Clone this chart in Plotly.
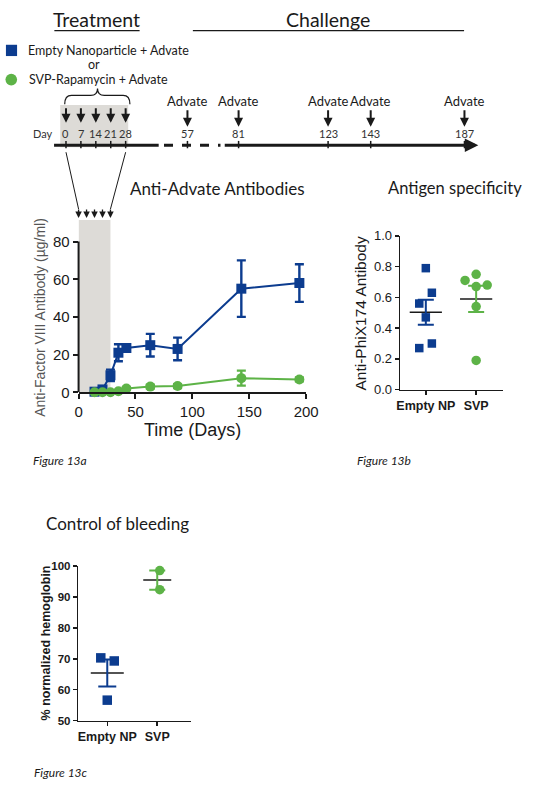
import numpy as np
import plotly.graph_objects as go

# ---------------- data ----------------
treatment_days = [0, 7, 14, 21, 28]
challenge_days = [57, 81, 123, 143, 187]

time_days = [14, 21, 28, 35, 42, 63, 87, 143, 194]
empty_np_titer = [0.3, 1.5, 9, 21, 23.5, 25, 23, 55, 58]
empty_np_titer_err = [0.5, 1, 3, 4.5, 2, 6, 6, 15, 10]
svp_titer = [0, 0, 0, 0.5, 2, 3, 3.3, 7.5, 6.8]
svp_titer_err = [0.3, 0.3, 0.3, 0.5, 0.8, 1, 1, 4, 1]

groups = ["Empty NP", "SVP"]
phix_empty_np = [0.79, 0.63, 0.56, 0.47, 0.30, 0.27]
phix_svp = [0.75, 0.71, 0.68, 0.67, 0.54, 0.19]
hb_empty_np = [70.3, 69.3, 56.6]
hb_svp = [98.6, 92.4]

time_ticks = [0, 50, 100, 150, 200]
titer_ticks = [0, 20, 40, 60, 80]
phix_ticks = [0.0, 0.2, 0.4, 0.6, 0.8, 1.0]
hb_ticks = [50, 60, 70, 80, 90, 100]

# ---------------- layout helpers ----------------
W, H = 541, 792
def fx(p): return p / W
def fy(p): return 1 - p / H

# horizontal jitter of the dot plots (layout only)
phix_empty_dx = [0, 0.12, -0.13, 0, 0.12, -0.13]
phix_svp_dx = [0, -0.22, 0.22, 0, 0, 0]
hb_empty_dx = [-0.13, 0.14, 0]
hb_svp_dx = [0.05, 0.05]

BLUE = "#0c3c8f"
GREEN = "#5db347"
BAND = "#dddbd7"
INK = "#1a1a1a"
TFONT = "Lato"
AFONT = "Liberation Sans"

# timeline axis: day d -> pixel TL0 + TLK*d
TL0, TLK = 64.0, 2.2
def tl_px(d): return TL0 + TLK * d
# main chart x axis pixel mapping
A_X0, A_X1 = 77.0, 312.0
def a_px(d): return A_X0 + d / 200.0 * (A_X1 - A_X0)

fig = go.Figure()

# ---------- Figure 13a ----------
fig.add_trace(go.Scatter(
    x=time_days, y=empty_np_titer, mode="lines+markers",
    error_y=dict(type="data", array=empty_np_titer_err, color=BLUE, thickness=2.4, width=4.5),
    marker=dict(symbol="square", size=10, color=BLUE), line=dict(color=BLUE, width=2),
    xaxis="x", yaxis="y", cliponaxis=False, showlegend=False, hoverinfo="skip"))
fig.add_trace(go.Scatter(
    x=time_days, y=svp_titer, mode="lines+markers",
    error_y=dict(type="data", array=svp_titer_err, color=GREEN, thickness=2.4, width=4.5),
    marker=dict(symbol="circle", size=10, color=GREEN), line=dict(color=GREEN, width=2),
    xaxis="x", yaxis="y", cliponaxis=False, showlegend=False, hoverinfo="skip"))

def mean_sem(v):
    a = np.asarray(v, float)
    return a.mean(), a.std(ddof=1) / np.sqrt(len(a))

def dot_group(xa, ya, vals, idx, dx, color, symbol, size, capw, half):
    m, s = mean_sem(vals)
    fig.add_trace(go.Scatter(
        x=[idx + o for o in dx], y=vals, mode="markers",
        marker=dict(symbol=symbol, size=size, color=color),
        xaxis=xa, yaxis=ya, cliponaxis=False, showlegend=False, hoverinfo="skip"))
    fig.add_trace(go.Scatter(
        x=[idx - half, idx + half], y=[m, m], mode="lines",
        line=dict(color=INK, width=1.5),
        xaxis=xa, yaxis=ya, cliponaxis=False, showlegend=False, hoverinfo="skip"))
    fig.add_trace(go.Scatter(
        x=[idx], y=[m], mode="markers", marker=dict(size=1, color="rgba(0,0,0,0)"),
        error_y=dict(type="data", array=[s], color=color, thickness=2, width=capw),
        xaxis=xa, yaxis=ya, cliponaxis=False, showlegend=False, hoverinfo="skip"))

# ---------- Figure 13b ----------
dot_group("x2", "y2", phix_empty_np, 0, phix_empty_dx, BLUE, "square", 8.5, 8, 0.32)
dot_group("x2", "y2", phix_svp, 1, phix_svp_dx, GREEN, "circle", 9.5, 8, 0.32)

# ---------- Figure 13c ----------
dot_group("x3", "y3", hb_empty_np, 0, hb_empty_dx, BLUE, "square", 9.5, 9, 0.33)
dot_group("x3", "y3", hb_svp, 1, hb_svp_dx, GREEN, "circle", 9.5, 8, 0.28)

# invisible anchor trace for the timeline axis
fig.add_trace(go.Scatter(
    x=treatment_days + challenge_days, y=[0.5] * 10, mode="markers",
    marker=dict(color="rgba(0,0,0,0)"), xaxis="x4", yaxis="y4",
    showlegend=False, hoverinfo="skip"))

common = dict(showgrid=False, zeroline=False, ticks="outside",
              linecolor=INK, tickcolor=INK)
fig.update_layout(
    width=W, height=H, margin=dict(l=0, r=0, t=0, b=0),
    paper_bgcolor="white", plot_bgcolor="rgba(0,0,0,0)",
    xaxis=dict(domain=[fx(A_X0), fx(A_X1)], range=[0, 200], tickvals=time_ticks,
               anchor="y", showline=True, linewidth=2, tickwidth=2, ticklen=5,
               tickfont=dict(family=AFONT, size=15, color=INK), **common),
    yaxis=dict(domain=[fy(392.7), fy(208.4)], range=[0, 96], tickvals=titer_ticks,
               anchor="x", showline=False, tickwidth=2, ticklen=5,
               tickfont=dict(family=AFONT, size=15, color=INK), **common),
    xaxis2=dict(domain=[fx(409), fx(515)], range=[-0.51, 1.53], tickvals=[0, 1],
                ticktext=["<b>%s</b>" % g for g in groups], anchor="y2",
                showline=True, linewidth=1.5, tickwidth=1.5, ticklen=4,
                tickfont=dict(family=AFONT, size=12.5, color=INK), **common),
    yaxis2=dict(domain=[fy(390), fy(233.3)], range=[0, 1], tickvals=phix_ticks,
                tickformat=".1f", anchor="x2", showline=True, linewidth=1.5,
                tickwidth=1.5, ticklen=4,
                tickfont=dict(family=AFONT, size=13, color=INK), **common),
    xaxis3=dict(domain=[fx(76.7), fx(193.3)], range=[-0.58, 1.68], tickvals=[0, 1],
                ticktext=["<b>%s</b>" % g for g in groups], anchor="y3",
                showline=True, linewidth=1.5, tickwidth=1.5, ticklen=4,
                tickfont=dict(family=AFONT, size=12.5, color=INK), **common),
    yaxis3=dict(domain=[fy(727.3), fy(570)], range=[50, 100], tickvals=hb_ticks,
                ticktext=["<b>%d</b>" % v for v in hb_ticks], anchor="x3",
                showline=True, linewidth=1.5, tickwidth=1.5, ticklen=4,
                tickfont=dict(family=AFONT, size=11.5, color=INK), **common),
    xaxis4=dict(domain=[0, 1], range=[-TL0 / TLK, (W - TL0) / TLK], visible=False,
                anchor="y4", fixedrange=True),
    yaxis4=dict(domain=[0, 1], range=[0, 1], visible=False, anchor="x4", fixedrange=True),
)

shapes = []
ann = []

def text(t, x, y, size, family=TFONT, color=INK, xanchor="center", angle=0, xref="paper"):
    ann.append(dict(text=t, x=x, y=y, xref=xref, yref="paper", showarrow=False,
                    xanchor=xanchor, yanchor="middle", textangle=angle,
                    font=dict(family=family, size=size, color=color)))

# ---- main chart decorations ----
shapes.append(dict(type="rect", xref="x", yref="y", x0=treatment_days[0], x1=treatment_days[-1],
                   y0=0, y1=91.5, fillcolor=BAND, line=dict(width=0), layer="below"))
shapes.append(dict(type="line", xref="x domain", yref="y", x0=0, x1=0, y0=0, y1=titer_ticks[-1],
                   line=dict(color=INK, width=2)))
for d in treatment_days:
    ann.append(dict(x=d, y=92.5, xref="x", yref="y", ax=0, ay=-10, text="", showarrow=True,
                    arrowhead=2, arrowsize=1, arrowwidth=1.3, arrowcolor=INK, standoff=0))

# connectors timeline box -> chart band
for d in (treatment_days[0], treatment_days[-1]):
    shapes.append(dict(type="line", xref="paper", yref="paper",
                       x0=fx(tl_px(d)), y0=fy(148), x1=fx(a_px(d)), y1=fy(206),
                       line=dict(color=INK, width=1)))

# ---- timeline ----
shapes.append(dict(type="rect", xref="x4", yref="paper", x0=-2.7, x1=29.2,
                   y0=fy(143), y1=fy(100), fillcolor=BAND, line=dict(width=0), layer="below"))
LY = fy(141)
shapes.append(dict(type="line", xref="x4", yref="paper", x0=-5.6, x1=43.5, y0=LY, y1=LY,
                   line=dict(color=INK, width=3)))
shapes.append(dict(type="line", xref="x4", yref="paper", x0=46, x1=72.5, y0=LY, y1=LY,
                   line=dict(color=INK, width=3, dash="dash")))
shapes.append(dict(type="line", xref="x4", yref="paper", x0=74.5, x1=189, y0=LY, y1=LY,
                   line=dict(color=INK, width=3)))
ann.append(dict(x=193.5, y=LY, xref="x4", yref="paper", ax=-14, ay=0, text="", showarrow=True,
                arrowhead=2, arrowsize=0.9, arrowwidth=3, arrowcolor=INK, standoff=0))
for d in treatment_days + challenge_days:
    shapes.append(dict(type="line", xref="x4", yref="paper", x0=d, x1=d, y0=fy(144), y1=fy(136.5),
                       line=dict(color=INK, width=1.5)))
    text(str(d), d, fy(128.5), 11, family=TFONT, color="#333", xref="x4")
text("Day", fx(40), fy(128.5), 11, color="#333")
for d in treatment_days:
    ann.append(dict(x=d, y=fy(118), xref="x4", yref="paper", ax=0, ay=-16, text="",
                    showarrow=True, arrowhead=2, arrowsize=0.9, arrowwidth=2,
                    arrowcolor=INK, standoff=0))
for d in challenge_days:
    ann.append(dict(x=d, y=fy(122), xref="x4", yref="paper", ax=0, ay=-26, text="Advate",
                    showarrow=True, arrowhead=2, arrowsize=0.9, arrowwidth=2,
                    arrowcolor=INK, standoff=0, font=dict(family=TFONT, size=13, color=INK)))

# brace above treatment box
bx0, bx1, bm = tl_px(-0.6), tl_px(30.0), tl_px(14.8)
yb, ym, yt = 99, 90, 83
path = ("M {a},{b} Q {a},{c} {d},{c} L {e},{c} Q {m},{c} {m},{t} Q {m},{c} {f},{c} "
        "L {g},{c} Q {h},{c} {h},{b}").format(
    a=fx(bx0), b=fy(yb), c=fy(ym), d=fx(bx0 + 7), e=fx(bm - 7), m=fx(bm), t=fy(yt),
    f=fx(bm + 7), g=fx(bx1 - 7), h=fx(bx1))
shapes.append(dict(type="path", xref="paper", yref="paper", path=path,
                   line=dict(color=INK, width=1.2)))

# headings
text("Treatment", fx(96), fy(13), 19.5)
shapes.append(dict(type="line", xref="paper", yref="paper", x0=fx(52), x1=fx(140),
                   y0=fy(24), y1=fy(24), line=dict(color=INK, width=1.2)))
text("Challenge", fx(335), fy(13), 19.5)
shapes.append(dict(type="line", xref="paper", yref="paper", x0=fx(195), x1=fx(475),
                   y0=fy(24), y1=fy(24), line=dict(color=INK, width=1.2)))

# legend block
shapes.append(dict(type="rect", xref="paper", yref="paper", x0=fx(2), x1=fx(13.5),
                   y0=fy(50), y1=fy(38.5), fillcolor=BLUE, line=dict(width=0)))
shapes.append(dict(type="circle", xref="paper", yref="paper", x0=fx(1.5), x1=fx(13.5),
                   y0=fy(80), y1=fy(68), fillcolor=GREEN, line=dict(width=0)))
text("Empty Nanoparticle + Advate", fx(23), fy(44), 12.5, xanchor="left")
text("or", fx(93), fy(59), 12.5)
text("SVP-Rapamycin + Advate", fx(24), fy(74), 12.5, xanchor="left")

# ---- panel titles and axis titles ----
text("Anti-Advate Antibodies", fx(220), fy(185), 17)
text("Anti-Factor VIII Antibody (µg/ml)", fx(37), fy(316), 14, family=AFONT,
     color="#555", angle=-90)
text("Time (Days)", fx(195), fy(431), 18, family=AFONT)
text("<i>Figure 13a</i>", fx(28), fy(462.5), 12, xanchor="left")

text("Antigen specificity", fx(466), fy(185), 16.5)
text("Anti-PhiX174 Antibody", fx(368), fy(312), 15.5, family=AFONT, angle=-90)
text("<i>Figure 13b</i>", fx(362), fy(462.5), 12, xanchor="left")

text("Control of bleeding", fx(117), fy(526), 17)
text("<b>% normalized hemoglobin</b>", fx(43), fy(648), 12.5, family=AFONT, angle=-90)
text("<i>Figure 13c</i>", fx(29), fy(780), 12, xanchor="left")

fig.update_layout(shapes=shapes, annotations=ann)
fig.write_html("out.html", config={"displayModeBar": False, "staticPlot": True},
               post_script="document.body.style.margin='0';document.body.style.overflow='hidden';")
